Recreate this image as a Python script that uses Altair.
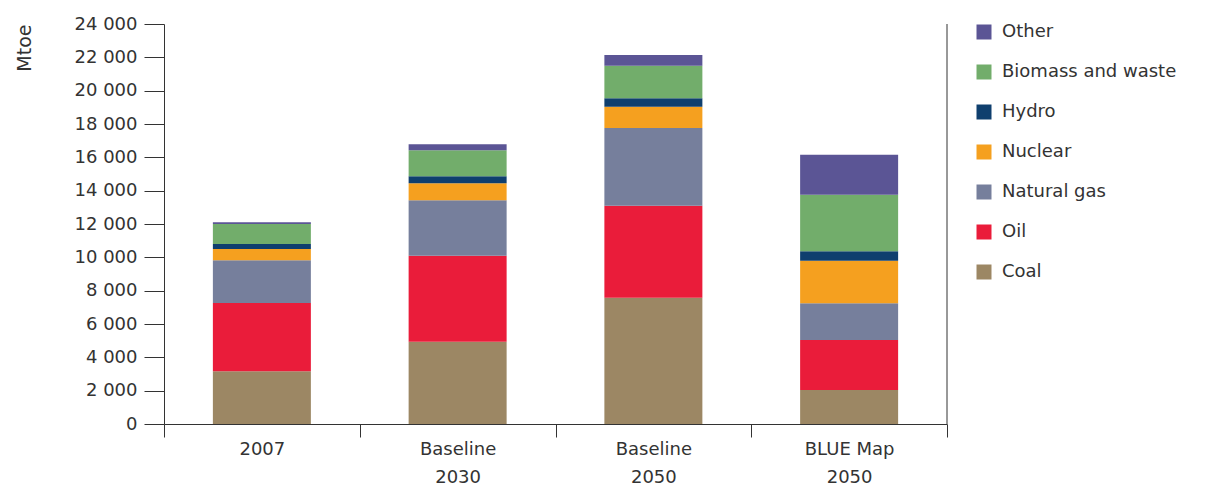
import altair as alt
import pandas as pd

scenarios = ["2007", "Baseline\n2030", "Baseline\n2050", "BLUE Map\n2050"]
fuels = ["Coal", "Oil", "Natural gas", "Nuclear", "Hydro", "Biomass and waste", "Other"]
colors = ["#9c8764", "#ea1c3a", "#767f9c", "#f5a01f", "#0f3f6e", "#72ad6b", "#5b5595"]

coal = [3160, 4940, 7580, 2040]
oil = [4100, 5160, 5520, 3000]
gas = [2560, 3320, 4660, 2200]
nuclear = [680, 1020, 1280, 2560]
hydro = [300, 420, 500, 560]
biomass = [1200, 1560, 1960, 3400]
other = [100, 360, 640, 2400]

series = [coal, oil, gas, nuclear, hydro, biomass, other]
rows = []
for i, (f, vals) in enumerate(zip(fuels, series)):
    for s, v in zip(scenarios, vals):
        rows.append({"scenario": s, "fuel": f, "value": v, "order": i})
df = pd.DataFrame(rows)

W, H = 783, 400
FONT = "DejaVu Sans"

bars = alt.Chart(df).mark_bar(size=98).encode(
    x=alt.X("scenario:N", sort=scenarios, title=None,
            scale=alt.Scale(paddingInner=0, paddingOuter=0),
            axis=alt.Axis(labelAngle=0, tickBand="extent", tickSize=13, tickColor="#333",
                          domainColor="#333", labelColor="#333", labelFontSize=18,
                          labelFont=FONT, labelPadding=3, labelLineHeight=28,
                          labelBaseline="top",
                          labelExpr="split(datum.label, '\\n')")),
    y=alt.Y("value:Q", stack="zero", title="Mtoe",
            scale=alt.Scale(domain=[0, 24000], nice=False),
            axis=alt.Axis(values=list(range(0, 24001, 2000)), tickSize=20, tickColor="#333",
                          domainColor="#333", labelColor="#333", labelFontSize=18,
                          labelFont=FONT, labelPadding=7, grid=False,
                          labelExpr="replace(format(datum.value, ',d'), ',', ' ')",
                          titleFont=FONT, titleFontSize=19, titleFontWeight="normal",
                          titleColor="#333", titleAngle=-90, titleAlign="right",
                          titleBaseline="middle", titleX=-140, titleY=0)),
    color=alt.Color("fuel:N", sort=fuels[::-1],
                    scale=alt.Scale(domain=fuels[::-1], range=colors[::-1]),
                    legend=alt.Legend(title=None, orient="none", legendX=811, legendY=-1,
                                      symbolType="square", symbolSize=225,
                                      symbolStrokeWidth=0, labelFontSize=18,
                                      labelFont=FONT, labelColor="#333", labelLimit=400,
                                      labelOffset=9, rowPadding=22)),
    order=alt.Order("order:Q", sort="ascending"),
)

right = alt.Chart(pd.DataFrame({"a": [0]})).mark_rule(color="#333", strokeWidth=1).encode(
    x=alt.value(W), y=alt.value(0), y2=alt.value(H))

chart = alt.layer(bars, right).properties(
    width=W, height=H,
    autosize=alt.AutoSizeParams(type="none"),
    padding={"left": 156, "top": 16, "right": 250, "bottom": 75},
).configure_view(stroke=None)

chart.save("out.html", embed_options={"renderer": "svg", "actions": False})
